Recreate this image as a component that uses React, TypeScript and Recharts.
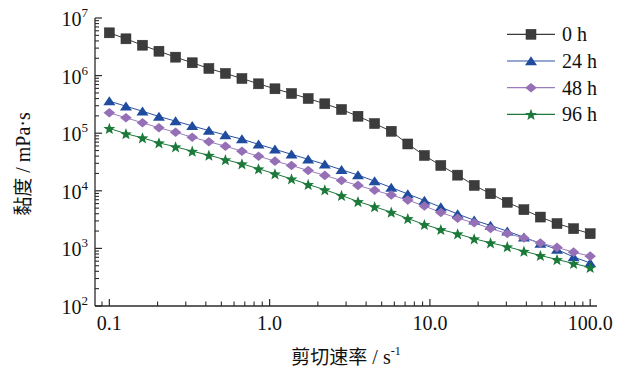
import React from 'react';
import { LineChart, Line, XAxis, YAxis, Legend } from 'recharts';

// Shear rate (s^-1)
const shearRate = [0.1, 0.127, 0.161, 0.204, 0.259, 0.329, 0.418, 0.53, 0.672, 0.853, 1.08, 1.37, 1.74, 2.21, 2.81, 3.56, 4.52, 5.74, 7.28, 9.24, 11.7, 14.9, 18.9, 23.9, 30.4, 38.6, 48.9, 62.1, 78.8, 100];

// Viscosity (mPa·s)
const visc0h = [5.53e6, 4.35e6, 3.37e6, 2.65e6, 2.09e6, 1.67e6, 1.33e6, 1.09e6, 8.9e5, 7.2e5, 5.9e5, 4.89e5, 4.0e5, 3.24e5, 2.58e5, 1.97e5, 1.47e5, 1.08e5, 6.5e4, 4.1e4, 2.75e4, 1.87e4, 1.24e4, 8.9e3, 6.3e3, 4.7e3, 3.5e3, 2.7e3, 2.2e3, 1.8e3];
const visc24h = [3.6e5, 2.94e5, 2.41e5, 1.95e5, 1.62e5, 1.34e5, 1.11e5, 9.3e4, 7.9e4, 6.4e4, 5.25e4, 4.3e4, 3.52e4, 2.88e4, 2.32e4, 1.88e4, 1.47e4, 1.14e4, 8.8e3, 6.8e3, 5.2e3, 3.95e3, 3.08e3, 2.5e3, 1.99e3, 1.56e3, 1.22e3, 957, 710, 558];
const visc48h = [2.26e5, 1.85e5, 1.52e5, 1.24e5, 1.04e5, 8.5e4, 7.1e4, 5.95e4, 4.87e4, 3.99e4, 3.27e4, 2.75e4, 2.25e4, 1.85e4, 1.51e4, 1.24e4, 1.02e4, 8.45e3, 6.9e3, 5.45e3, 4.2e3, 3.34e3, 2.78e3, 2.21e3, 1.81e3, 1.52e3, 1.24e3, 1.04e3, 860, 733];
const visc96h = [1.21e5, 9.8e4, 8.3e4, 6.8e4, 5.8e4, 4.87e4, 4.15e4, 3.47e4, 2.94e4, 2.41e4, 1.97e4, 1.61e4, 1.29e4, 1.04e4, 8.3e3, 6.5e3, 5.3e3, 4.25e3, 3.3e3, 2.6e3, 2.13e3, 1.79e3, 1.47e3, 1.25e3, 1.07e3, 894, 753, 641, 547, 466];

const seriesNames = ['0 h', '24 h', '48 h', '96 h'];

// Axis ticks
const xMajorTicks = [0.1, 1, 10, 100];
const xMajorLabels = ['0.1', '1.0', '10.0', '100.0'];
const xMinorTicks = [0.09, 0.2, 0.3, 0.4, 0.5, 0.6, 0.7, 0.8, 0.9, 2, 3, 4, 5, 6, 7, 8, 9, 20, 30, 40, 50, 60, 70, 80, 90];
const yMajorTicks = [1e2, 1e3, 1e4, 1e5, 1e6, 1e7];
const yMajorExponents = ['2', '3', '4', '5', '6', '7'];
const yMinorTicks = [
  200, 300, 400, 500, 600, 700, 800, 900,
  2000, 3000, 4000, 5000, 6000, 7000, 8000, 9000,
  2e4, 3e4, 4e4, 5e4, 6e4, 7e4, 8e4, 9e4,
  2e5, 3e5, 4e5, 5e5, 6e5, 7e5, 8e5, 9e5,
  2e6, 3e6, 4e6, 5e6, 6e6, 7e6, 8e6, 9e6,
];

const data = shearRate.map((x, i) => ({
  x,
  h0: visc0h[i],
  h24: visc24h[i],
  h48: visc48h[i],
  h96: visc96h[i],
}));

const SERIF = 'Liberation Serif, serif';
const CJK = 'Noto Sans CJK SC, sans-serif';
const AXIS_COLOR = '#2b2b2b';

const COLORS = {
  h0: { line: '#3a3a3a', fill: '#3c3c3c' },
  h24: { line: '#2a52a2', fill: '#1f4c9e' },
  h48: { line: '#9a7cbd', fill: '#9670b6' },
  h96: { line: '#1d7a3c', fill: '#1b7a3a' },
};

const SquareMark = ({ cx, cy, fill }: any) => (
  <rect x={cx - 5} y={cy - 5} width={10} height={10} fill={fill} stroke="#2a2a2a" strokeWidth={0.5} />
);
const TriangleMark = ({ cx, cy, fill }: any) => (
  <polygon points={`${cx},${cy - 4.8} ${cx - 6},${cy + 4.2} ${cx + 6},${cy + 4.2}`} fill={fill} />
);
const DiamondMark = ({ cx, cy, fill }: any) => (
  <polygon points={`${cx},${cy - 4.8} ${cx + 5.8},${cy} ${cx},${cy + 4.8} ${cx - 5.8},${cy}`} fill={fill} />
);
const StarMark = ({ cx, cy, fill }: any) => {
  const pts: string[] = [];
  const R = 6.2;
  const r = 2.6;
  for (let k = 0; k < 10; k++) {
    const ang = -Math.PI / 2 + (k * Math.PI) / 5;
    const rad = k % 2 === 0 ? R : r;
    pts.push(`${cx + rad * Math.cos(ang)},${cy + 0.6 + rad * Math.sin(ang)}`);
  }
  return <polygon points={pts.join(' ')} fill={fill} />;
};

const markers = [SquareMark, TriangleMark, DiamondMark, StarMark];
const keys: Array<'h0' | 'h24' | 'h48' | 'h96'> = ['h0', 'h24', 'h48', 'h96'];

const makeDot = (Mark: any, fill: string) => (p: any) => {
  if (p.cx == null || p.cy == null) return <g key={p.index} />;
  return <Mark key={p.index} cx={p.cx} cy={p.cy} fill={fill} />;
};

const XTick = (props: any) => {
  const { x, y, payload } = props;
  const v = payload.value;
  const majorIdx = xMajorTicks.findIndex((t) => Math.abs(t - v) / t < 1e-6);
  if (majorIdx >= 0) {
    return (
      <g>
        <line x1={x} x2={x} y1={y} y2={y - 7} stroke={AXIS_COLOR} strokeWidth={1.2} />
        <text x={x} y={y + 24} textAnchor="middle" style={{ fontFamily: SERIF }} fontSize={20} fill="#111">
          {xMajorLabels[majorIdx]}
        </text>
      </g>
    );
  }
  return <line x1={x} x2={x} y1={y} y2={y - 4.5} stroke={AXIS_COLOR} strokeWidth={1.1} />;
};

const YTick = (props: any) => {
  const { x, y, payload } = props;
  const v = payload.value;
  const majorIdx = yMajorTicks.findIndex((t) => Math.abs(t - v) / t < 1e-6);
  if (majorIdx >= 0) {
    return (
      <g>
        <line x1={x} x2={x + 7} y1={y} y2={y} stroke={AXIS_COLOR} strokeWidth={1.2} />
        <text x={x - 7} y={y + 8} textAnchor="end" style={{ fontFamily: SERIF }} fontSize={20} fill="#111">
          <tspan>10</tspan>
          <tspan dy={-9} fontSize={13}>{yMajorExponents[majorIdx]}</tspan>
        </text>
      </g>
    );
  }
  return <line x1={x} x2={x + 4} y1={y} y2={y} stroke={AXIS_COLOR} strokeWidth={1.1} />;
};

const XTitle = (props: any) => {
  const vb = props.viewBox || { x: 95, y: 306, width: 502, height: 69 };
  const cx = vb.x + vb.width / 2;
  return (
    <text x={cx} y={vb.y + 58} textAnchor="middle" fontSize={20} fill="#111" style={{ fontFamily: SERIF }}>
      <tspan style={{ fontFamily: CJK }} fontSize={19}>剪切速率</tspan>
      <tspan> / s</tspan>
      <tspan dy={-9} fontSize={12}>-1</tspan>
    </text>
  );
};

const YTitle = () => {
  const cx = 30;
  const cy = 164;
  return (
    <text
      x={cx}
      y={cy}
      textAnchor="middle"
      fontSize={20}
      fill="#111"
      style={{ fontFamily: SERIF }}
      transform={`rotate(-90, ${cx}, ${cy})`}
    >
      <tspan style={{ fontFamily: CJK }} fontSize={19}>黏度</tspan>
      <tspan> / mPa·s</tspan>
    </text>
  );
};

const renderLegend = () => (
  <svg width={120} height={110} style={{ overflow: 'visible', display: 'block' }}>
    {keys.map((k, i) => {
      const cy = 14.3 + i * 26.7;
      const Mark = markers[i];
      return (
        <g key={k}>
          <line x1={7} x2={55} y1={cy} y2={cy} stroke={COLORS[k].line} strokeWidth={1.2} />
          <Mark cx={31} cy={cy} fill={COLORS[k].fill} />
          <text x={62} y={cy + 7} style={{ fontFamily: SERIF }} fontSize={20} fill="#111">
            {seriesNames[i]}
          </text>
        </g>
      );
    })}
  </svg>
);

export default function App() {
  return (
    <div style={{ position: 'absolute', left: 0, top: 0, background: '#fff' }}>
      <LineChart width={621} height={375} data={data} margin={{ top: 18, right: 24, bottom: 0, left: 0 }}>
        <XAxis
          dataKey="x"
          type="number"
          scale="log"
          domain={[0.0814, 110.3]}
          allowDataOverflow
          ticks={[...xMajorTicks, ...xMinorTicks]}
          interval={0}
          tickSize={0}
          tickMargin={0}
          tickLine={false}
          tick={XTick}
          axisLine={{ stroke: AXIS_COLOR, strokeWidth: 1.3 }}
          height={69}
          label={XTitle}
        />
        <YAxis
          type="number"
          scale="log"
          domain={[100, 1e7]}
          allowDataOverflow
          ticks={[...yMajorTicks, ...yMinorTicks]}
          interval={0}
          tickSize={0}
          tickMargin={0}
          tickLine={false}
          tick={YTick}
          axisLine={{ stroke: AXIS_COLOR, strokeWidth: 1.3 }}
          width={95}
          label={YTitle}
        />
        <Legend
          content={renderLegend}
          wrapperStyle={{ position: 'absolute', left: 500, top: 20, width: 0, height: 0, overflow: 'visible' }}
        />
        {keys.map((k, i) => (
          <Line
            key={k}
            dataKey={k}
            name={seriesNames[i]}
            type="linear"
            stroke={COLORS[k].line}
            strokeWidth={1}
            dot={makeDot(markers[i], COLORS[k].fill)}
            activeDot={false}
            isAnimationActive={false}
          />
        ))}
      </LineChart>
    </div>
  );
}
